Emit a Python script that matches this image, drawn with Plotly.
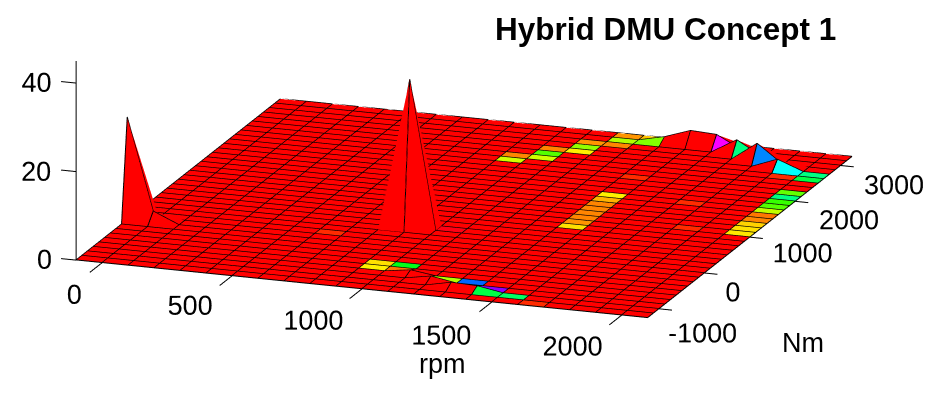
import plotly.graph_objects as go

rpm = [-100 + 100 * i for i in range(23)]
nm = [-1250 + 125 * j for j in range(37)]

# raised vertices (rpm index, Nm index, height)
peak_col = [0, 1, 10, 12, 13, 14, 15, 15, 16, 17, 18, 19, 20]
peak_row = [9, 9, 13, 4, 3, 2, 2, 35, 35, 35, 34, 33, 32]
peak_z = [23.2, 2.5, 33.6, 0.8, 1.0, 1.2, 1.0, 1.3, 3.3, 3.0, 3.4, 4.2, 2.2]

# coloured faces (rpm index, Nm index, hsv position)
face_col = [21]*10 + [21, 21, 20, 20, 19, 18, 17] + [15]*8 + [10, 10, 11, 11, 11, 12, 12, 12, 13, 13, 13, 14, 14] \
    + [10, 10, 11, 11, 13, 14, 15, 15, 16, 17, 7, 15, 19, 18, 11]
face_row = [18, 19, 20, 21, 22, 23, 24, 25, 26, 27] + [30, 31, 30, 31, 32, 33, 34] + [16, 17, 18, 19, 20, 21, 22, 23] \
    + [28, 29, 29, 30, 31, 31, 32, 33, 33, 34, 35, 34, 35] \
    + [4, 5, 4, 5, 3, 3, 2, 1, 1, 0, 10, 27, 18, 23, 13]
face_c = [.155, .15, .14, .09, .08, .21, .28, .30, .42, .27] + [.38, .42, .03, .5, .58, .42, .83] \
    + [.15, .10, .09, .09, .09, .09, .12, .16] \
    + [.2, .09, .2, .28, .09, .16, .24, .1, .09, .22, .1, .25, .13] \
    + [.16, .15, .08, .35, .22, .6, .76, .38, .4, .03, .03, .03, .03, .03, .985]

tick_rpm = [0, 500, 1000, 1500, 2000]
tick_nm = [-1000, 0, 1000, 2000, 3000]
tick_z = [0, 20, 40]
hsv_scale = [[0, '#ff0000'], [1/6, '#ffff00'], [1/3, '#00ff00'], [.5, '#00ffff'], [2/3, '#0000ff'], [5/6, '#ff00ff'], [1, '#ff0000']]

# where the tick labels sit, in axis units
rpm_label_x = [40, 483, 970, 1471, 1965]
rpm_label_y = [-2097, -2078, -2138, -2188, -2132]
nm_label_x = [2352, 2277, 2348, 2362, 2364]
nm_label_y = [-1484, -393, 749, 1682, 2662]
z_label_x = [-223, -254, -254]
z_label_z = [-0.5, 19.2, 39.3]

nx, ny = len(rpm), len(nm)
Z = [[0.0] * nx for _ in range(ny)]
for c, r, h in zip(peak_col, peak_row, peak_z):
    Z[r][c] = h
C = [[0.0] * (nx - 1) for _ in range(ny - 1)]
for c, r, v in zip(face_col, face_row, face_c):
    C[r][c] = v

vx, vy, vz = [], [], []
for j in range(ny):
    for i in range(nx):
        vx.append(rpm[i]); vy.append(nm[j]); vz.append(Z[j][i])
I, J, K, inten = [], [], [], []
for j in range(ny - 1):
    for i in range(nx - 1):
        a = j * nx + i
        b = a + 1
        c = a + nx + 1
        d = a + nx
        I += [a, a]; J += [b, c]; K += [c, d]
        inten += [C[j][i], C[j][i]]

lx, ly, lz = [], [], []
for j in range(ny):
    for i in range(nx):
        lx.append(rpm[i]); ly.append(nm[j]); lz.append(Z[j][i] + .04)
    lx.append(None); ly.append(None); lz.append(None)
for i in range(nx):
    for j in range(ny):
        lx.append(rpm[i]); ly.append(nm[j]); lz.append(Z[j][i] + .04)
    lx.append(None); ly.append(None); lz.append(None)

# axis lines and tick marks
ax_x, ax_y, ax_z = [-100, -100, None], [-1250, -1250, None], [0, 45, None]
for t in tick_rpm:
    ax_x += [t, t, None]; ax_y += [-1250, -1520, None]; ax_z += [0, 0, None]
for t in tick_nm:
    ax_x += [2100, 2150, None]; ax_y += [t, t, None]; ax_z += [0, 0, None]
for t in tick_z:
    ax_x += [-100, -158, None]; ax_y += [-1250, -1250, None]; ax_z += [t, t, None]

fig = go.Figure()
fig.add_trace(go.Mesh3d(x=vx, y=vy, z=vz, i=I, j=J, k=K, intensity=inten, intensitymode='cell',
                        colorscale=hsv_scale, cmin=0, cmax=1, showscale=False, flatshading=True,
                        lighting=dict(ambient=1, diffuse=0, specular=0, roughness=1, fresnel=0)))
fig.add_trace(go.Scatter3d(x=lx, y=ly, z=lz, mode='lines', line=dict(color='black', width=2), showlegend=False))
fig.add_trace(go.Scatter3d(x=ax_x, y=ax_y, z=ax_z, mode='lines', line=dict(color='black', width=2), showlegend=False))

tick_font = dict(family='Liberation Sans', size=27, color='black')
fig.add_trace(go.Scatter3d(x=rpm_label_x, y=rpm_label_y, z=[0]*5, mode='text', text=[str(t) for t in tick_rpm],
                           textposition='middle center', textfont=tick_font, showlegend=False))
fig.add_trace(go.Scatter3d(x=nm_label_x, y=nm_label_y, z=[0]*5, mode='text', text=[str(t) for t in tick_nm],
                           textposition='middle center', textfont=tick_font, showlegend=False))
fig.add_trace(go.Scatter3d(x=z_label_x, y=[-1250]*3, z=z_label_z, mode='text', text=[str(t) for t in tick_z],
                           textposition='middle center', textfont=tick_font, showlegend=False))

hidden = dict(visible=False, showgrid=False, zeroline=False, showbackground=False, showspikes=False)
S = 3.005
R = 8
delta = (.1088, -.0692, -.3453)
fig.update_layout(
    width=943, height=404, margin=dict(l=0, r=0, t=0, b=0), paper_bgcolor='white', showlegend=False,
    scene=dict(
        domain=dict(x=[0, 1], y=[0, 1]),
        xaxis=dict(range=[-300, 2400], **hidden), yaxis=dict(range=[-2200, 3250], **hidden), zaxis=dict(range=[-1, 45], **hidden),
        aspectmode='manual', aspectratio=dict(x=S*2700/2200, y=S*5450/4500, z=S*.342*46/45),
        camera=dict(projection=dict(type='orthographic'), up=dict(x=0, y=0, z=1),
                    center=dict(x=delta[0], y=delta[1], z=delta[2]),
                    eye=dict(x=.323*R+delta[0], y=-.903*R+delta[1], z=.282*R+delta[2]))),
    annotations=[
        dict(text='<b>Hybrid DMU Concept 1</b>', x=665/943, y=1-29/404, xref='paper', yref='paper', showarrow=False,
             xanchor='center', yanchor='middle', font=dict(family='Liberation Sans', size=31.5, color='black')),
        dict(text='rpm', x=442/943, y=1-364/404, xref='paper', yref='paper', showarrow=False,
             xanchor='center', yanchor='middle', font=dict(family='Liberation Sans', size=27, color='black')),
        dict(text='Nm', x=803/943, y=1-343/404, xref='paper', yref='paper', showarrow=False,
             xanchor='center', yanchor='middle', font=dict(family='Liberation Sans', size=27, color='black')),
    ])
fig.write_html('out.html', config=dict(displayModeBar=False), post_script="document.body.style.margin='0';")
